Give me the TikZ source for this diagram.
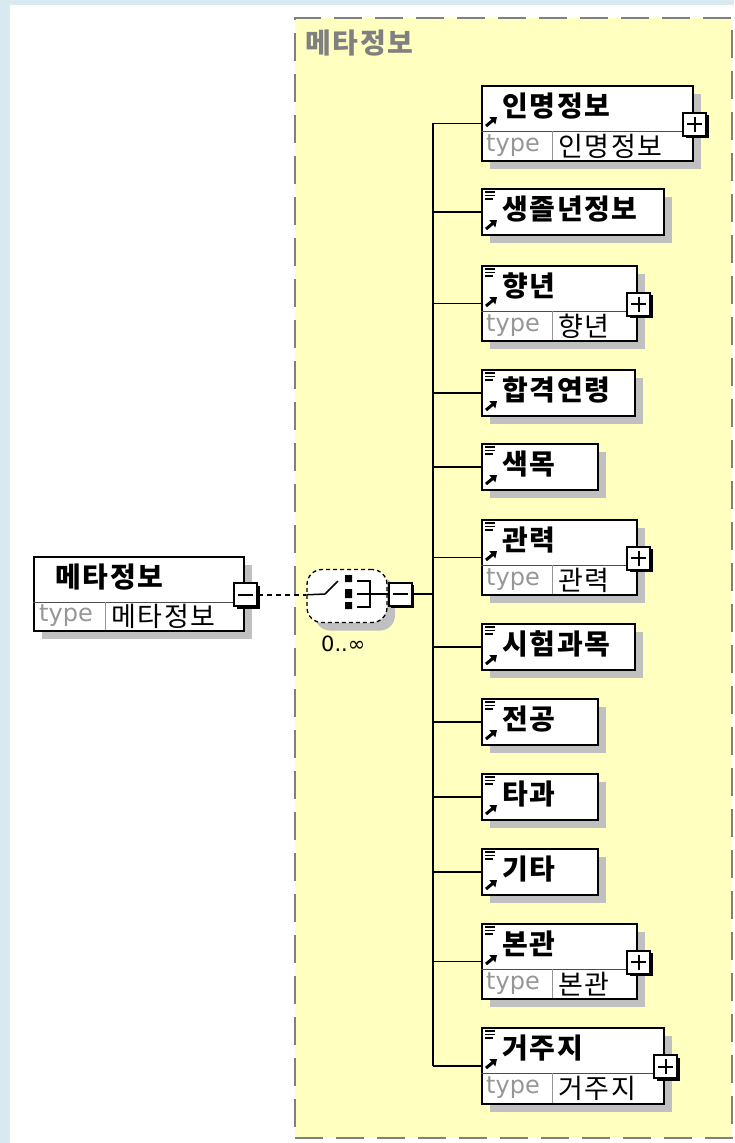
\documentclass[tikz,border=0pt]{standalone}
\usepackage{fontspec}
\usepackage{tikz}
\usetikzlibrary{shadows,arrows.meta}

\newfontfamily\kr[LetterSpace=6]{Noto Sans CJK KR}
\newfontfamily\lat{DejaVu Sans}

\definecolor{bgblue}{RGB}{216,234,239}
\definecolor{groupfill}{RGB}{255,255,192}
\definecolor{groupline}{RGB}{128,128,128}
\definecolor{shadowgrey}{RGB}{192,192,192}
\definecolor{typegrey}{RGB}{150,150,150}

\tikzset{
  elem/.style={draw, line width=1.6pt, fill=white, anchor=north west, inner sep=0pt,
    drop shadow={shadow xshift=8pt, shadow yshift=-8pt, fill=shadowgrey, opacity=1}},
  ename/.style={anchor=west, inner sep=0pt, font=\kr\bfseries\fontsize{28}{30}\selectfont},
  tval/.style={anchor=west, inner sep=0pt, font=\kr\fontsize{27}{28}\selectfont},
  tlabel/.style={anchor=west, inner sep=0pt, text=typegrey, font=\lat\fontsize{24}{26}\selectfont},
  rowsep/.style={line width=1pt, draw=black!70},
  cellsep/.style={line width=1pt, draw=typegrey},
  conn/.style={line width=1.5pt},
  pmbox/.style={draw, fill=white, line width=2pt, minimum size=23pt, inner sep=0pt,
    drop shadow={shadow xshift=2.5pt, shadow yshift=-2.5pt, fill=black, opacity=1}},
  plusbox/.style={pmbox, path picture={
    \draw[line width=2pt] ([xshift=4pt]path picture bounding box.west) -- ([xshift=-4pt]path picture bounding box.east)
      ([yshift=-4pt]path picture bounding box.north) -- ([yshift=4pt]path picture bounding box.south);}},
  minusbox/.style={pmbox, path picture={
    \draw[line width=2pt] ([xshift=4pt]path picture bounding box.west) -- ([xshift=-4pt]path picture bounding box.east);}},
  groupbox/.style={draw=groupline, fill=groupfill, line width=2pt, dash pattern=on 28pt off 13pt,
    anchor=north west, inner sep=0pt},
  grouptitle/.style={anchor=west, inner sep=0pt, text=groupline, font=\kr\bfseries\fontsize{28}{30}\selectfont},
  seqbox/.style={rectangle, rounded corners=15pt, draw, dash pattern=on 4pt off 3pt, line width=1.3pt,
    fill=white, minimum width=80, minimum height=53, inner sep=0pt,
    drop shadow={shadow xshift=8pt, shadow yshift=-8pt, fill=shadowgrey, opacity=1}},
  occur/.style={anchor=west, inner sep=0pt, font=\lat\fontsize{21}{24}\selectfont},
  docmark/.pic={\draw[line width=1.4pt] (0,0) -- (10,0) (0,3.5) -- (10,3.5) (0,7) -- (8,7);},
  refmark/.pic={\draw[line width=3pt, -{Triangle[length=6pt,width=9pt]}] (0,0) -- (11,-9);}
}

\begin{document}
\begin{tikzpicture}[x=1pt,y=-1pt]
  \useasboundingbox (0,0) rectangle (734,1143);
  \fill[bgblue] (0,0) rectangle (734,1143);
  \fill[white] (10,5) rectangle (734,1143);

  % group
  \node[groupbox, minimum width=437, minimum height=1120] (metagroup) at (294,17) {};
  \node[grouptitle] (metagroup-title) at (305,43) {메타정보};

  % parent element
  \node[elem, minimum width=210, minimum height=74] (meta) at (33,556) {};
  \node[ename] (meta-name) at (55,577) {메타정보};
  \draw[rowsep] (33,602) -- (243,602);
  \draw[cellsep] (105,602) -- (105,630);
  \node[tlabel] (meta-type) at (39,616) {type};
  \node[tval] (meta-val) at (111,616) {메타정보};
  \node[minusbox] (metaminus) at ([shift={(1,1)}]meta.east) {};

  % sequence
  \node[seqbox] (seq) at (347,596) {};
  \node[minusbox] (seqminus) at (400,594) {};
  \node[occur] (seq-occ) at (321,644) {0..∞};
  \draw[conn, dash pattern=on 5pt off 4pt] (metaminus.east) -- (metaminus.east -| seq.west);
  \draw[conn] (metaminus.east -| seq.west) -- (325,594) -- (338,581);
  \fill (345,575) rectangle (352,582) (345,589) rectangle (352,598) (345,602) rectangle (352,609);
  \draw[conn] (357,581) -- (370,581) -- (370,607) -- (357,607) (357,594) -- (seqminus.west);
  \coordinate (trunk) at (433,594);
  \draw[conn] (seqminus.east) -- (trunk);

  % children
  \node[elem, minimum width=211, minimum height=75] (inmyeong) at (481,85) {};
  \pic at (486,126) {refmark};
  \node[ename] (inmyeong-name) at (502,106) {인명정보};
  \draw[rowsep] (481,131) -- (692,131);
  \draw[cellsep] (552,131) -- (552,160);
  \node[tlabel] (inmyeong-type) at (486,146) {type};
  \node[tval] (inmyeong-val) at (558,146) {인명정보};
  \node[plusbox] (inmyeong-plus) at ([shift={(1,1)}]inmyeong.east) {};

  \node[elem, minimum width=182, minimum height=46] (saengjol) at (481,188) {};
  \pic at (485,192) {docmark};
  \pic at (486,229) {refmark};
  \node[ename] (saengjol-name) at (502,209) {생졸년정보};

  \node[elem, minimum width=155, minimum height=75] (hyangnyeon) at (481,265) {};
  \pic at (485,269) {docmark};
  \pic at (486,306) {refmark};
  \node[ename] (hyangnyeon-name) at (502,286) {향년};
  \draw[rowsep] (481,311) -- (636,311);
  \draw[cellsep] (552,311) -- (552,340);
  \node[tlabel] (hyangnyeon-type) at (486,326) {type};
  \node[tval] (hyangnyeon-val) at (558,326) {향년};
  \node[plusbox] (hyangnyeon-plus) at ([shift={(1,1)}]hyangnyeon.east) {};

  \node[elem, minimum width=153, minimum height=46] (hapgyeok) at (481,369) {};
  \pic at (485,373) {docmark};
  \pic at (486,410) {refmark};
  \node[ename] (hapgyeok-name) at (502,390) {합격연령};

  \node[elem, minimum width=116, minimum height=46] (saengmok) at (481,443) {};
  \pic at (485,447) {docmark};
  \pic at (486,484) {refmark};
  \node[ename] (saengmok-name) at (502,464) {색목};

  \node[elem, minimum width=155, minimum height=75] (gwallyeok) at (481,519) {};
  \pic at (485,523) {docmark};
  \pic at (486,560) {refmark};
  \node[ename] (gwallyeok-name) at (502,540) {관력};
  \draw[rowsep] (481,565) -- (636,565);
  \draw[cellsep] (552,565) -- (552,594);
  \node[tlabel] (gwallyeok-type) at (486,580) {type};
  \node[tval] (gwallyeok-val) at (558,580) {관력};
  \node[plusbox] (gwallyeok-plus) at ([shift={(1,1)}]gwallyeok.east) {};

  \node[elem, minimum width=153, minimum height=46] (siheom) at (481,623) {};
  \pic at (485,627) {docmark};
  \pic at (486,664) {refmark};
  \node[ename] (siheom-name) at (502,644) {시험과목};

  \node[elem, minimum width=116, minimum height=46] (jeongong) at (481,698) {};
  \pic at (485,702) {docmark};
  \pic at (486,739) {refmark};
  \node[ename] (jeongong-name) at (502,719) {전공};

  \node[elem, minimum width=116, minimum height=46] (tagwa) at (481,773) {};
  \pic at (485,777) {docmark};
  \pic at (486,814) {refmark};
  \node[ename] (tagwa-name) at (502,794) {타과};

  \node[elem, minimum width=116, minimum height=46] (gita) at (481,848) {};
  \pic at (485,852) {docmark};
  \pic at (486,889) {refmark};
  \node[ename] (gita-name) at (502,869) {기타};

  \node[elem, minimum width=155, minimum height=75] (bongwan) at (481,923) {};
  \pic at (485,927) {docmark};
  \pic at (486,964) {refmark};
  \node[ename] (bongwan-name) at (502,944) {본관};
  \draw[rowsep] (481,969) -- (636,969);
  \draw[cellsep] (552,969) -- (552,998);
  \node[tlabel] (bongwan-type) at (486,984) {type};
  \node[tval] (bongwan-val) at (558,984) {본관};
  \node[plusbox] (bongwan-plus) at ([shift={(1,1)}]bongwan.east) {};

  \node[elem, minimum width=182, minimum height=76] (geoju) at (481,1027) {};
  \pic at (485,1031) {docmark};
  \pic at (486,1068) {refmark};
  \node[ename] (geoju-name) at (502,1048) {거주지};
  \draw[rowsep] (481,1073) -- (663,1073);
  \draw[cellsep] (552,1073) -- (552,1103);
  \node[tlabel] (geoju-type) at (486,1088) {type};
  \node[tval] (geoju-val) at (558,1088) {거주지};
  \node[plusbox] (geoju-plus) at ([shift={(1,1)}]geoju.east) {};

  % connectors
  \draw[conn] (trunk |- inmyeong.west) -- (trunk |- geoju.west);
  \draw[conn] (trunk |- inmyeong.west) -- (inmyeong.west);
  \draw[conn] (trunk |- saengjol.west) -- (saengjol.west);
  \draw[conn] (trunk |- hyangnyeon.west) -- (hyangnyeon.west);
  \draw[conn] (trunk |- hapgyeok.west) -- (hapgyeok.west);
  \draw[conn] (trunk |- saengmok.west) -- (saengmok.west);
  \draw[conn] (trunk |- gwallyeok.west) -- (gwallyeok.west);
  \draw[conn] (trunk |- siheom.west) -- (siheom.west);
  \draw[conn] (trunk |- jeongong.west) -- (jeongong.west);
  \draw[conn] (trunk |- tagwa.west) -- (tagwa.west);
  \draw[conn] (trunk |- gita.west) -- (gita.west);
  \draw[conn] (trunk |- bongwan.west) -- (bongwan.west);
  \draw[conn] (trunk |- geoju.west) -- (geoju.west);
\end{tikzpicture}
\end{document}
